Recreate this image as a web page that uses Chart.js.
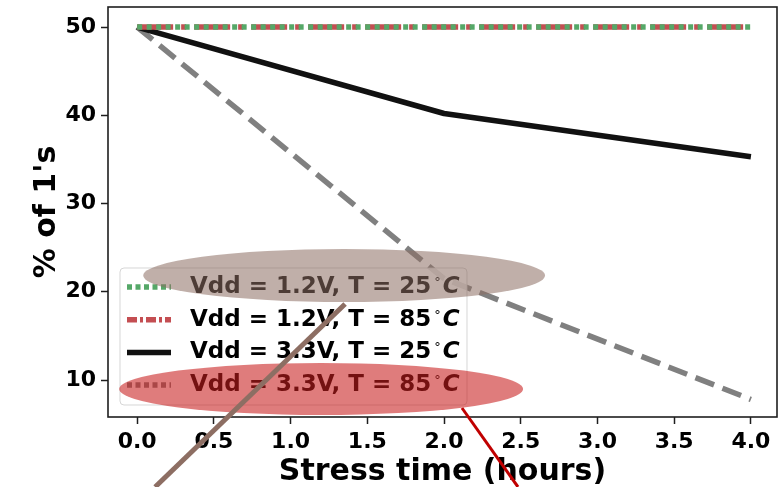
<!DOCTYPE html>
<html lang="en">
<head>
  <meta charset="UTF-8" />
  <title>% of 1's vs stress time</title>
  <script src="https://cdn.jsdelivr.net/npm/chart.js"></script>
  <style>
    html, body { margin: 0; padding: 0; background: #fff; }
  </style>
</head>
<body>
  <canvas id="stressChart" width="781" height="487"></canvas>

<script>
// readings taken at 0, 2 and 4 hours of stress
const stressHours = [0, 2, 4];
const vdd12T25 = [50, 50, 50];
const vdd12T85 = [50, 50, 50];
const vdd33T25 = [50, 40.2, 35.3];
const vdd33T85 = [50, 21.5, 7.8];

const seriesLabels = [
  "Vdd = 1.2V, T = 25°C",
  "Vdd = 1.2V, T = 85°C",
  "Vdd = 3.3V, T = 25°C",
  "Vdd = 3.3V, T = 85°C"
];

const xTicks = [0, 0.5, 1, 1.5, 2, 2.5, 3, 3.5, 4];
const yTicks = [10, 20, 30, 40, 50];

// highlight ovals drawn over the figure, in data units: x, y, half width, half height
const ovalCenterX = [1.349, 1.199];
const ovalCenterY = [21.84, 8.98];
const ovalHalfW = [1.309, 1.316];
const ovalHalfH = [3.0, 2.95];
// pointer strokes, in data units: x1, y1, x2, y2
const pointerX1 = [1.355, 2.117];
const pointerY1 = [18.61, 6.83];
const pointerX2 = [0.117, 2.482];
const pointerY2 = [-2.12, -2.12];

const FONT = '"DejaVu Sans", "Liberation Sans", sans-serif';
Chart.defaults.font.family = FONT;
Chart.defaults.color = '#000';

const pts = ys => stressHours.map((h, i) => ({ x: h, y: ys[i] }));

// legend handles are drawn a bit differently from the plotted lines
const handleDash = [[5, 3.5], [10, 3, 3, 3], [], [5, 3.5]];

function drawLabel(ctx, text, x, base) {
  const parts = text.split('°');
  ctx.textBaseline = 'alphabetic';
  ctx.textAlign = 'left';
  ctx.font = 'bold 23px ' + FONT;
  ctx.fillText(parts[0], x, base);
  let cx = x + ctx.measureText(parts[0]).width + 3;
  ctx.font = '13px ' + FONT;
  ctx.fillText('°', cx, base - 7);
  cx += ctx.measureText('°').width + 2;
  ctx.font = 'italic bold 23px ' + FONT;
  ctx.fillText(parts[1], cx, base);
}

const legendBox = {
  id: 'legendBox',
  afterDatasetsDraw(chart) {
    const ctx = chart.ctx;
    const ca = chart.chartArea;
    const left = ca.left + 12, top = ca.bottom - 149, w = 347, h = 137;
    ctx.save();
    ctx.beginPath();
    ctx.roundRect(left, top, w, h, 4);
    ctx.fillStyle = 'rgba(255,255,255,0.8)';
    ctx.fill();
    ctx.strokeStyle = 'rgba(204,204,204,0.8)';
    ctx.lineWidth = 1;
    ctx.stroke();

    chart.data.datasets.forEach((ds, i) => {
      const cy = top + 17 + i * 32.7;
      ctx.beginPath();
      ctx.setLineDash(handleDash[i]);
      ctx.lineCap = 'butt';
      ctx.strokeStyle = ds.borderColor;
      ctx.lineWidth = ds.borderWidth;
      ctx.moveTo(left + 7, cy + 2);
      ctx.lineTo(left + 51, cy + 2);
      ctx.stroke();
      ctx.setLineDash([]);
      ctx.fillStyle = '#000';
      drawLabel(ctx, ds.label, left + 70, cy + 8);
    });
    ctx.restore();
  }
};

const frameAndMarks = {
  id: 'frameAndMarks',
  afterDraw(chart) {
    const ctx = chart.ctx;
    const ca = chart.chartArea;
    const xs = chart.scales.x, ys = chart.scales.y;
    ctx.save();
    ctx.strokeStyle = '#1e1e1e';
    ctx.lineWidth = 1.6;
    ctx.strokeRect(ca.left, ca.top, ca.right - ca.left, ca.bottom - ca.top);

    const ovalFill = ['rgba(141,110,99,0.55)', 'rgba(200,30,30,0.58)'];
    ovalCenterX.forEach((cx, i) => {
      const px = xs.getPixelForValue(cx);
      const py = ys.getPixelForValue(ovalCenterY[i]);
      const rx = xs.getPixelForValue(cx + ovalHalfW[i]) - px;
      const ry = py - ys.getPixelForValue(ovalCenterY[i] + ovalHalfH[i]);
      ctx.beginPath();
      ctx.ellipse(px, py, rx, ry, 0, 0, Math.PI * 2);
      ctx.fillStyle = ovalFill[i];
      ctx.fill();
    });

    const strokeColor = ['#8d6e63', '#c00000'];
    const strokeWidth = [5, 3];
    pointerX1.forEach((x1, i) => {
      ctx.beginPath();
      ctx.moveTo(xs.getPixelForValue(x1), ys.getPixelForValue(pointerY1[i]));
      ctx.lineTo(xs.getPixelForValue(pointerX2[i]), ys.getPixelForValue(pointerY2[i]));
      ctx.strokeStyle = strokeColor[i];
      ctx.lineWidth = strokeWidth[i];
      ctx.stroke();
    });
    ctx.restore();
  }
};

const tickGrid = {
  display: true,
  drawOnChartArea: false,
  drawTicks: true,
  tickLength: 7,
  tickWidth: 1.5,
  tickColor: '#1e1e1e'
};

new Chart(document.getElementById('stressChart'), {
  type: 'line',
  data: {
    datasets: [
      { label: seriesLabels[0], data: pts(vdd12T25), borderColor: '#55a868', borderWidth: 5.5, borderDash: [5, 4.5] },
      { label: seriesLabels[1], data: pts(vdd12T85), borderColor: '#c44e52', borderWidth: 5.5, borderDash: [36, 8, 5, 8] },
      { label: seriesLabels[2], data: pts(vdd33T25), borderColor: '#111111', borderWidth: 5.5, borderJoinStyle: 'round' },
      { label: seriesLabels[3], data: pts(vdd33T85), borderColor: '#808080', borderWidth: 5.5, borderDash: [20, 9] }
    ]
  },
  options: {
    responsive: false,
    animation: false,
    devicePixelRatio: 1,
    elements: { point: { radius: 0 }, line: { tension: 0 } },
    layout: { padding: { top: 7, right: 4, left: 0, bottom: 0 } },
    plugins: { legend: { display: false }, tooltip: { enabled: false } },
    scales: {
      x: {
        type: 'linear',
        min: -0.19,
        max: 4.17,
        afterBuildTicks: s => { s.ticks = xTicks.map(v => ({ value: v })); },
        afterFit: s => { s.height = 70; s.paddingLeft = 0; s.paddingRight = 0; },
        ticks: {
          padding: 5,
          maxRotation: 0,
          font: { size: 22, weight: 'bold' },
          callback: v => Number(v).toFixed(1)
        },
        grid: tickGrid,
        border: { display: false },
        title: {
          display: true,
          text: 'Stress time (hours)',
          font: { size: 30, weight: 'bold' },
          padding: { top: 0, bottom: -3 }
        }
      },
      y: {
        min: 5.81,
        max: 52.27,
        afterBuildTicks: s => { s.ticks = yTicks.map(v => ({ value: v })); },
        afterFit: s => { s.width = 108; s.paddingTop = 0; s.paddingBottom = 0; },
        ticks: {
          padding: 5,
          font: { size: 22, weight: 'bold' },
          callback: v => String(v)
        },
        grid: tickGrid,
        border: { display: false },
        title: {
          display: true,
          text: "% of 1's",
          font: { size: 30, weight: 'bold' },
          padding: { top: 29, bottom: 0 }
        }
      }
    }
  },
  plugins: [legendBox, frameAndMarks]
});
</script>
</body>
</html>
